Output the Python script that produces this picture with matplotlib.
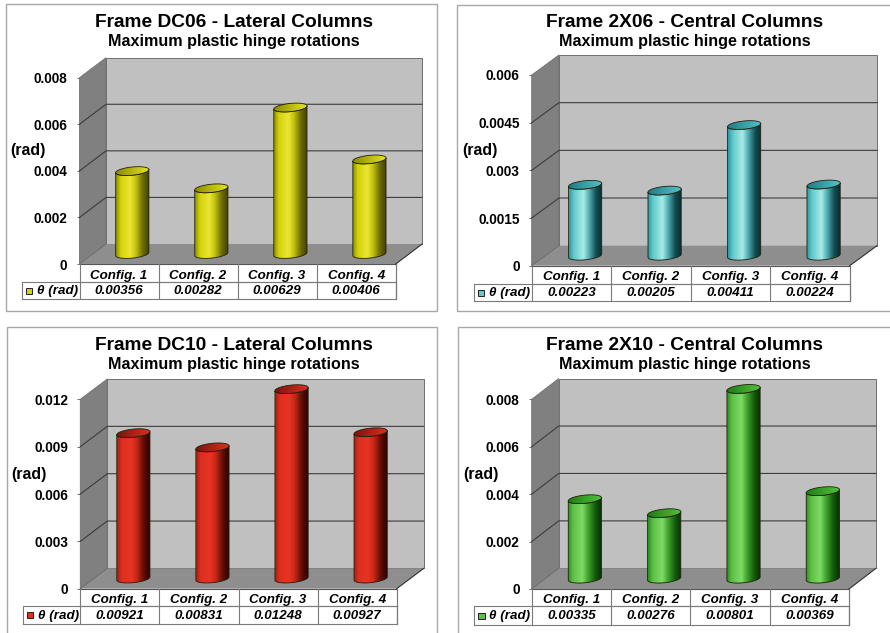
import numpy as np
import matplotlib
matplotlib.use('Agg')
import matplotlib.pyplot as plt
from matplotlib.colors import LinearSegmentedColormap
from matplotlib.patches import Polygon, Rectangle

plt.rcParams['font.family'] = ['Liberation Sans', 'DejaVu Sans']
plt.rcParams['font.weight'] = 'bold'

W, H = 890, 633

configs = ['Config. 1', 'Config. 2', 'Config. 3', 'Config. 4']
series_name = 'θ (rad)'

values_dc06 = [0.00356, 0.00282, 0.00629, 0.00406]
labels_dc06 = ['0.00356', '0.00282', '0.00629', '0.00406']
ticks_dc06 = ['0', '0.002', '0.004', '0.006', '0.008']

values_2x06 = [0.00223, 0.00205, 0.00411, 0.00224]
labels_2x06 = ['0.00223', '0.00205', '0.00411', '0.00224']
ticks_2x06 = ['0', '0.0015', '0.003', '0.0045', '0.006']

values_dc10 = [0.00921, 0.00831, 0.01248, 0.00927]
labels_dc10 = ['0.00921', '0.00831', '0.01248', '0.00927']
ticks_dc10 = ['0', '0.003', '0.006', '0.009', '0.012']

values_2x10 = [0.00335, 0.00276, 0.00801, 0.00369]
labels_2x10 = ['0.00335', '0.00276', '0.00801', '0.00369']
ticks_2x10 = ['0', '0.002', '0.004', '0.006', '0.008']

# side, bright and shadow tones of each cylinder, then the two ends of its cap
yellow = ['#8f8f00', '#d2d20c', '#eee432', '#c4c414', '#6a6a00', '#3c3c00', '#8c8c00', '#e6e620']
teal = ['#2a9aa4', '#62c8cc', '#a8ece6', '#58b4b8', '#124e54', '#062a2e', '#1f7c86', '#55c4ca']
red = ['#a82014', '#dc3020', '#e63424', '#c82818', '#5c0c06', '#280000', '#7c140c', '#dc3020']
green = ['#2c8c20', '#5cc044', '#80da68', '#44a830', '#145c0c', '#082c04', '#1e7c14', '#52c43a']

# frame box, plot front (x0, x1, ytop, ybottom), table rows, legend cell left,
# title centre and y positions, axis-title position
panels = [
    dict(title='Frame DC06 - Lateral Columns', values=values_dc06, labels=labels_dc06, ticks=ticks_dc06,
         ymax=0.008, colors=yellow, box=(5.5, 4, 437, 311), front=(79.5, 395.7, 77.7, 264),
         depth=(26.5, 20), rows=(281.7, 299.3), leg=21.7, tx=234, ty=(20, 40), rad=(28, 151)),
    dict(title='Frame 2X06 - Central Columns', values=values_2x06, labels=labels_2x06, ticks=ticks_2x06,
         ymax=0.006, colors=teal, box=(456.7, 4.5, 900, 310.7), front=(531.7, 849.7, 75, 265.7),
         depth=(27.3, 20), rows=(283.7, 301.3), leg=473.7, tx=685, ty=(20, 40), rad=(480, 151)),
    dict(title='Frame DC10 - Lateral Columns', values=values_dc10, labels=labels_dc10, ticks=ticks_dc10,
         ymax=0.012, colors=red, box=(6.5, 327.3, 437, 650), front=(80.3, 396.7, 399.3, 588.7),
         depth=(27, 20.3), rows=(606, 624.3), leg=22.7, tx=234, ty=(343, 363), rad=(29, 474)),
    dict(title='Frame 2X10 - Central Columns', values=values_2x10, labels=labels_2x10, ticks=ticks_2x10,
         ymax=0.008, colors=green, box=(457.7, 327.3, 900, 650), front=(531.7, 849, 399.3, 589),
         depth=(27, 20.7), rows=(606, 625), leg=474, tx=685, ty=(343, 363.5), rad=(481, 474)),
]

GRID = '#3c3c3c'
EDGE = '#707070'
TABLE = '#7a7a7a'


def draw_cylinder(ax, cx, base, top, sx, sy, colors):
    # sx, sy are data units per pixel
    t = np.linspace(0, np.pi, 40)
    rx, k, ry = 16.6 * sx, 1.6 * sy, 4.1 * sy

    def rim(y, ang):
        return np.column_stack([cx + rx * np.cos(ang), y + k * np.cos(ang) + ry * np.sin(ang)])

    body_path = np.vstack([rim(base, np.pi + t), rim(top, -t)])
    body = Polygon(body_path, closed=True, fc='none', ec='#20200a', lw=0.6, clip_on=False, zorder=5)
    ax.add_patch(body)

    cmap = LinearSegmentedColormap.from_list('side', list(zip([0, 0.14, 0.42, 0.58, 0.8, 1], colors[:6])))
    grad = np.linspace(0, 1, 128)[np.newaxis]
    im = ax.imshow(grad, extent=(cx - rx, cx + rx, base - k - ry, top + k + ry), aspect='auto',
                   cmap=cmap, zorder=4)
    im.set_clip_path(body)
    im.set_clip_box(ax.figure.bbox)

    cap_path = np.vstack([rim(top, t), rim(top, np.pi + t)])
    cap = Polygon(cap_path, closed=True, fc='none', ec='#20200a', lw=0.6, clip_on=False, zorder=7)
    ax.add_patch(cap)
    cap_map = LinearSegmentedColormap.from_list('cap', colors[6:8])
    im2 = ax.imshow(grad, extent=(cx - rx, cx + rx, top - k - ry, top + k + ry), aspect='auto',
                    cmap=cap_map, zorder=6)
    im2.set_clip_path(cap)
    im2.set_clip_box(ax.figure.bbox)


def draw_panel(fig, bg, p):
    x0, x1, ytop, ybot = p['front']
    ax = fig.add_axes([x0 / W, 1 - ybot / H, (x1 - x0) / W, (ybot - ytop) / H], facecolor='none')
    ymax = p['ymax']
    sx = 4 / (x1 - x0)
    sy = ymax / (ybot - ytop)
    dx, dy = p['depth'][0] * sx, p['depth'][1] * sy

    # back wall, side wall and floor
    ax.add_patch(Rectangle((dx, dy), 4, ymax, fc='#c0c0c0', ec=EDGE, lw=0.7, clip_on=False, zorder=1))
    ax.add_patch(Polygon([(0, 0), (dx, dy), (dx, ymax + dy), (0, ymax)], fc='#808080', ec=EDGE, lw=0.6,
                         clip_on=False, zorder=1))
    ax.add_patch(Polygon([(0, 0), (dx, dy), (4 + dx, dy), (4, 0)], fc='#8e8e8e', ec='none',
                         clip_on=False, zorder=2))

    tick_values = np.linspace(0, ymax, 5)
    for v in tick_values[1:-1]:
        ax.plot([0, dx, 4 + dx], [v, v + dy, v + dy], color=GRID, lw=0.8, clip_on=False, zorder=3)
    ax.plot([0, dx], [0, dy], color=EDGE, lw=0.7, clip_on=False, zorder=3)
    ax.plot([4, 4 + dx], [0, dy], color='#303030', lw=0.8, clip_on=False, zorder=3)

    # the value axis stops at ymax, so taller columns end there
    for i, v in enumerate(p['values']):
        draw_cylinder(ax, i + 0.5 + dx / 2, dy / 2, min(v, ymax) + dy / 2, sx, sy, p['colors'])

    ax.set_xlim(0, 4)
    ax.set_ylim(0, ymax)
    ax.set_xticks([])
    ax.set_yticks(tick_values)
    ax.set_yticklabels(p['ticks'], fontsize=9.8, fontweight='bold')
    ax.tick_params(axis='y', length=2.5, width=0.7, color=EDGE, pad=6.2)
    for label in ax.get_yticklabels():
        label.set_y(label.get_position()[1])
    for s in ax.spines.values():
        s.set_visible(False)

    # data table under the plot, in pixel coordinates on the background axes
    r1, r2 = p['rows']
    cw = (x1 - x0) / 4
    bg.plot([x0, x1], [ybot, ybot], color='#555555', lw=0.8)
    bg.plot([x0, x1], [r1, r1], color=TABLE, lw=0.8)
    bg.plot([p['leg'], x1, x1, p['leg'], p['leg']], [r2, r2, r1, r1, r2], color=TABLE, lw=0.8)
    bg.plot([x1, x1], [ybot, r2], color=TABLE, lw=0.8)
    for i in range(5):
        bg.plot([x0 + i * cw] * 2, [ybot, r2], color=TABLE, lw=0.8)
    for i in range(4):
        cx = x0 + (i + 0.5) * cw
        bg.text(cx, ybot + 14.5, configs[i], ha='center', va='baseline', fontsize=9.6,
                fontweight='bold', fontstyle='italic')
        bg.text(cx, r1 + 12.6, p['labels'][i], ha='center', va='baseline', fontsize=9.6,
                fontweight='bold', fontstyle='italic')
    ymid = (r1 + r2) / 2
    bg.add_patch(Rectangle((p['leg'] + 4.3, ymid - 3), 6.4, 6, fc=p['colors'][1], ec='#202020', lw=0.7))
    bg.text(p['leg'] + 15, r1 + 12.6, series_name, ha='left', va='baseline', fontsize=9.6,
            fontweight='bold', fontstyle='italic')

    bx0, by0, bx1, by1 = p['box']
    bg.add_patch(Rectangle((bx0, by0), bx1 - bx0, by1 - by0, fc='white', ec='#a8a8a8', lw=1.0, zorder=0))
    bg.text(p['tx'], p['ty'][0] + 6.8, p['title'], ha='center', va='baseline', fontsize=13.8, fontweight='bold')
    bg.text(p['tx'], p['ty'][1] + 5.8, 'Maximum plastic hinge rotations', ha='center', va='baseline',
            fontsize=11.6, fontweight='bold')
    bg.text(p['rad'][0], p['rad'][1] + 4.5, '(rad)', ha='center', va='baseline', fontsize=11.4, fontweight='bold')


fig = plt.figure(figsize=(W / 100, H / 100), dpi=100, facecolor='white')
bg = fig.add_axes([0, 0, 1, 1])
bg.set_xlim(0, W)
bg.set_ylim(H, 0)
bg.axis('off')

for panel in panels:
    draw_panel(fig, bg, panel)

fig.savefig('out.png', dpi=100)
